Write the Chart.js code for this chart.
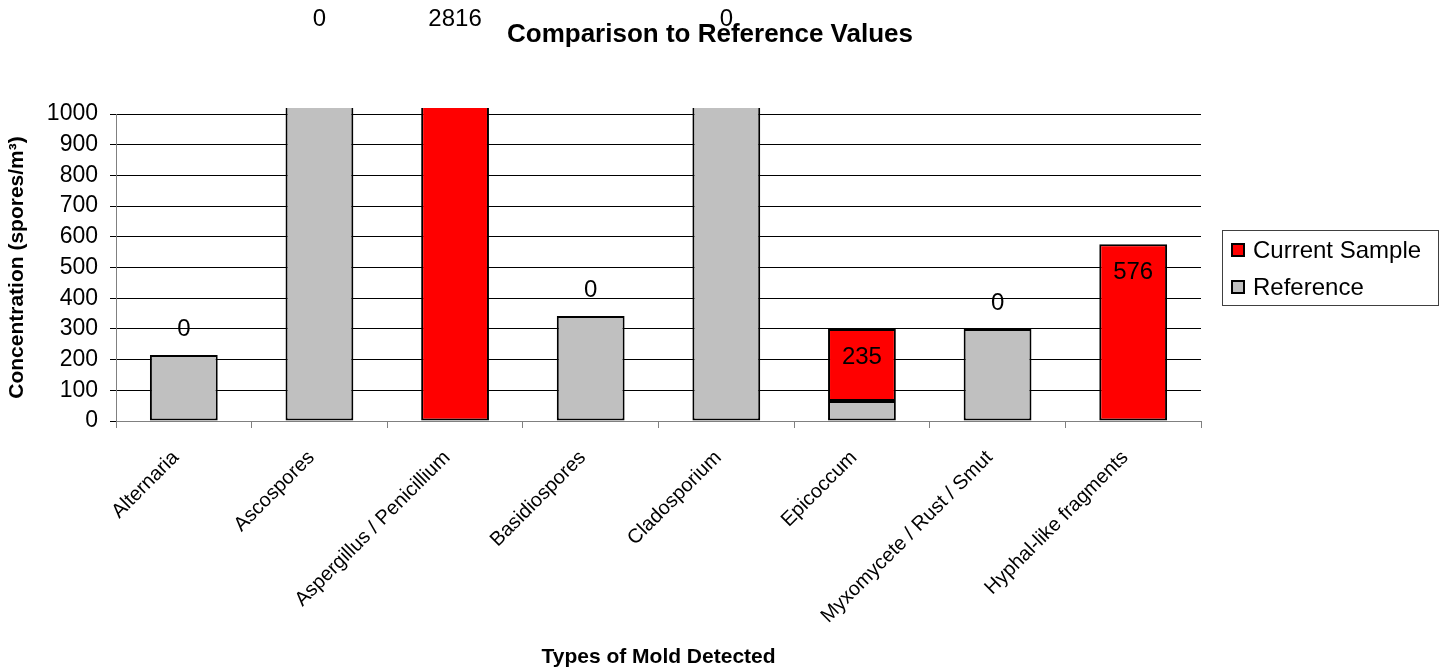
<!DOCTYPE html>
<html>
<head>
<meta charset="utf-8">
<script src="https://cdn.jsdelivr.net/npm/chart.js@4"></script>
<style>
    body { margin: 0; background: #fff; }
    #mold { display: block; }
</style>
</head>
<body>
<canvas id="mold" width="1448" height="670"></canvas>
<script>
// data
const categories = ['Alternaria', 'Ascospores', 'Aspergillus / Penicillium', 'Basidiospores',
    'Cladosporium', 'Epicoccum', 'Myxomycete / Rust / Smut', 'Hyphal-like fragments'];
const reference_values = [215, 1230, 0, 342, 1230, 65, 300, 0];
const current_values = [0, 0, 2816, 0, 0, 235, 0, 576];
const y_ticks = [0, 100, 200, 300, 400, 500, 600, 700, 800, 900, 1000];

const FONT = "'Liberation Sans', Arial, sans-serif";

// no outline on empty segments
function bar_border(c) {
    return c.raw === 0 ? 0 : 2;
}

// value labels on top of Current Sample + title + legend box
const extras = {
    id: 'extras',
    afterDatasetsDraw(chart) {
        const ctx = chart.ctx;
        const area = chart.chartArea;
        const meta = chart.getDatasetMeta(1);
        ctx.save();
        ctx.fillStyle = '#000';
        ctx.textAlign = 'center';
        ctx.textBaseline = 'middle';
        ctx.font = '24px ' + FONT;
        meta.data.forEach(function(bar, i) {
            let v = current_values[i];
            let y;
            if (bar.y < area.top) {
                y = 19; // off the scale, excel pins these at the top
            } else {
                y = v > 0 ? bar.y + 28 : bar.y - 26;
            }
            ctx.fillText(String(v), bar.x, y);
        });
        ctx.restore();
    },
    afterDraw(chart) {
        const ctx = chart.ctx;
        ctx.save();
        // title
        ctx.fillStyle = '#000';
        ctx.font = 'bold 26px ' + FONT;
        ctx.textAlign = 'center';
        ctx.textBaseline = 'middle';
        ctx.fillText('Comparison to Reference Values', 710, 35);

        // legend
        ctx.strokeStyle = '#404040';
        ctx.lineWidth = 1;
        ctx.strokeRect(1222.5, 230.5, 216, 75);
        const items = [
            {label: 'Current Sample', color: '#FF0000', y: 250},
            {label: 'Reference', color: '#C0C0C0', y: 287}
        ];
        ctx.font = '24px ' + FONT;
        ctx.textAlign = 'left';
        items.forEach(function(it) {
            ctx.fillStyle = it.color;
            ctx.fillRect(1232, it.y - 6, 12, 12);
            ctx.strokeStyle = '#000';
            ctx.lineWidth = 2;
            ctx.strokeRect(1232, it.y - 6, 12, 12);
            ctx.fillStyle = '#000';
            ctx.fillText(it.label, 1253, it.y + 1);
        });
        ctx.restore();
    }
};

let config_mold = {
    type: 'bar',
    data: {
        labels: categories,
        datasets: [
            {
                label: 'Reference',
                data: reference_values,
                backgroundColor: '#C0C0C0',
                borderColor: '#000',
                borderWidth: bar_border,
                borderSkipped: false,
                barPercentage: 0.5,
                categoryPercentage: 1,
                clip: {left: 0, top: 6, right: 0, bottom: 2}
            },
            {
                label: 'Current Sample',
                data: current_values,
                backgroundColor: '#FF0000',
                borderColor: '#000',
                borderWidth: bar_border,
                borderSkipped: false,
                barPercentage: 0.5,
                categoryPercentage: 1,
                clip: {left: 0, top: 6, right: 0, bottom: 2}
            }
        ]
    },
    plugins: [extras],
    options: {
        responsive: false,
        animation: false,
        layout: {
            padding: {left: 0, top: 114, right: 247, bottom: 0}
        },
        plugins: {
            legend: { display: false },
            title: { display: false },
            tooltip: { enabled: false }
        },
        scales: {
            x: {
                stacked: true,
                afterFit: function(s) { s.height = 670 - 421; },
                grid: {
                    offset: true,
                    drawOnChartArea: false,
                    drawTicks: true,
                    tickLength: 7,
                    color: '#808080'
                },
                border: { color: '#808080', width: 1 },
                ticks: {
                    autoSkip: false,
                    minRotation: 45,
                    maxRotation: 45,
                    color: '#000',
                    padding: 18,
                    labelOffset: -8,
                    font: { family: FONT, size: 20 }
                },
                title: {
                    display: true,
                    text: 'Types of Mold Detected',
                    color: '#000',
                    font: { family: FONT, size: 21, weight: 'bold' },
                    padding: { top: 0, bottom: 0 }
                }
            },
            y: {
                stacked: true,
                min: 0,
                max: 1000,
                afterFit: function(s) { s.width = 116; },
                afterBuildTicks: function(s) { s.ticks = y_ticks.map(v => ({value: v})); },
                grid: {
                    color: function(c) { return c.tick.value === 0 ? '#808080' : '#000'; },
                    tickColor: '#000',
                    tickLength: 6,
                    lineWidth: 1
                },
                border: { color: '#808080', width: 1 },
                ticks: {
                    color: '#000',
                    padding: 12,
                    font: { family: FONT, size: 23 },
                    callback: function(v) { return String(v); }
                },
                title: {
                    display: true,
                    text: 'Concentration (spores/m³)',
                    color: '#000',
                    font: { family: FONT, size: 21, weight: 'bold' },
                    padding: { top: 5, bottom: 0 }
                }
            }
        }
    }
};

let mold_chart = new Chart(document.getElementById('mold'), config_mold);
</script>
</body>
</html>
